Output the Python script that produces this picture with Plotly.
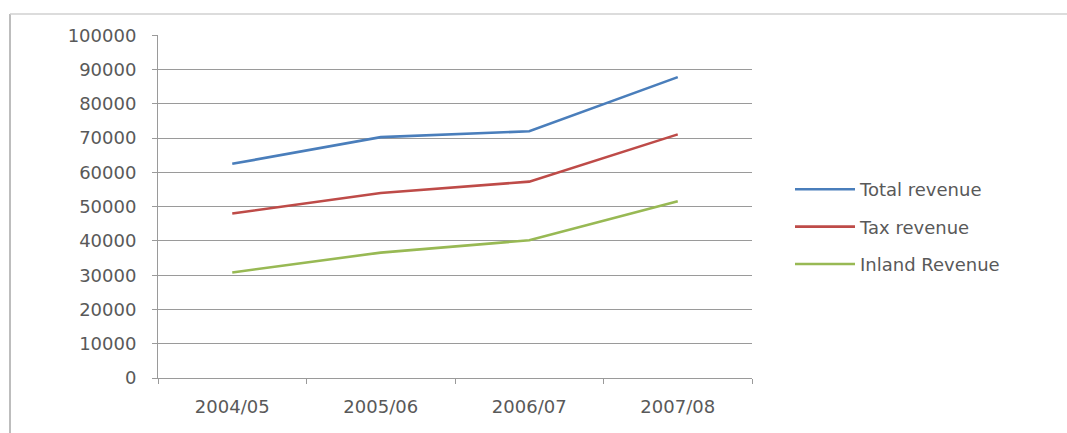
import plotly.graph_objects as go

# Fiscal years and revenue series
years = ["2004/05", "2005/06", "2006/07", "2007/08"]
total_revenue = [62500, 70300, 72000, 87800]
tax_revenue = [48000, 54000, 57300, 71100]
inland_revenue = [30800, 36600, 40200, 51600]
y_ticks = list(range(0, 100001, 10000))

series = [
    ("Total revenue", total_revenue, "#4A7EBB"),
    ("Tax revenue", tax_revenue, "#BE4B48"),
    ("Inland Revenue", inland_revenue, "#98B954"),
]

FONT = "DejaVu Sans"
TEXT = "#595959"
GRID = "#9a9a9a"

fig = go.Figure()
for name, vals, color in series:
    fig.add_trace(go.Scatter(
        x=years, y=vals, name=name, mode="lines",
        line=dict(color=color, width=2.6),
        legendgroup=name,
    ))

W, H = 1067, 433
L, R, T, B = 158, 315, 35, 55
pw, ph = W - L - R, H - T - B

def px_x(p):
    return (p - L) / pw

def px_y(p):
    return (H - B - p) / ph

fig.update_layout(
    width=W, height=H,
    margin=dict(l=L, r=R, t=T, b=B),
    paper_bgcolor="white", plot_bgcolor="white",
    font=dict(family=FONT, size=18, color=TEXT),
    showlegend=True,
    legend=dict(
        x=px_x(790), y=px_y(171), xanchor="left", yanchor="top",
        traceorder="grouped", tracegroupgap=11,
        font=dict(family=FONT, size=18, color=TEXT),
        bgcolor="rgba(0,0,0,0)", itemwidth=60,
    ),
    xaxis=dict(
        type="category", tickson="boundaries", range=[-0.5, len(years) - 0.5],
        showgrid=False, showline=True, linecolor=GRID, linewidth=1,
        ticks="outside", ticklen=5, tickcolor=GRID,
        ticklabelstandoff=12,
        tickfont=dict(family=FONT, size=18, color=TEXT),
        fixedrange=True,
    ),
    yaxis=dict(
        range=[0, 100100], tickvals=y_ticks,
        ticktext=[str(v) for v in y_ticks],
        showgrid=True, gridcolor=GRID, gridwidth=1,
        showline=True, linecolor=GRID, linewidth=1,
        ticks="outside", ticklen=5, tickcolor=GRID,
        ticklabelstandoff=12,
        tickfont=dict(family=FONT, size=18, color=TEXT),
        zeroline=False, fixedrange=True,
    ),
)

# Chart frame on the left and top edges
frame = "#bdbdbd"
fig.add_shape(type="line", xref="paper", yref="paper",
              x0=px_x(10), x1=px_x(10), y0=px_y(14), y1=px_y(433),
              line=dict(color=frame, width=2))
fig.add_shape(type="line", xref="paper", yref="paper",
              x0=px_x(10), x1=px_x(1067), y0=px_y(14), y1=px_y(14),
              line=dict(color="#d0d0d0", width=1.5))

fig.write_html("out.html")
